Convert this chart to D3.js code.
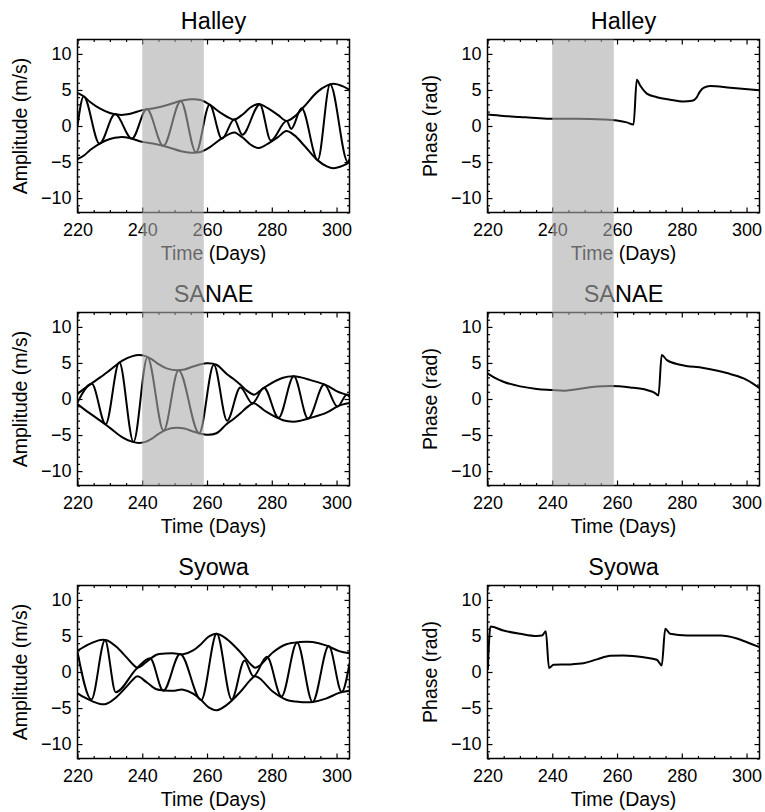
<!DOCTYPE html>
<html>
<head>
<meta charset="utf-8">
<script src="https://cdn.jsdelivr.net/npm/d3@7"></script>
<style>
    body { margin: 0; background: #fff; }
    text { font-family: "Liberation Sans", Arial, Helvetica, sans-serif; fill: #000; }
</style>
</head>
<body>
<div id="chart"></div>
<script>
const stations = ["Halley", "SANAE", "Syowa"];
const dayDomain = [220, 304];
const valueDomain = [-12, 12];
const xTicks = [220, 240, 260, 280, 300];
const yTicks = [-10, -5, 0, 5, 10];
const bandDays = [240, 259];

// amplitude envelopes, [day, m/s]
const halleyEnvelope = [[220, 4.6], [222, 4.1], [224, 3.3], [227, 2.4], [230, 1.8], [233, 1.55], [236, 1.65],
    [240, 2.2], [244, 2.5], [248, 2.95], [252, 3.5], [255, 3.7], [258, 3.6], [261, 2.9], [264, 1.9], [267, 1.1],
    [268.5, 0.9], [271, 1.6], [273.5, 2.6], [276, 3.05], [279, 2.4], [282, 1.5], [284.5, 0.7], [287, 1.3],
    [290, 2.7], [294, 4.7], [297, 5.6], [299, 5.85], [302, 5.5], [304, 5.0]];
const sanaeEnvelope = [[220, 0.7], [222, 1.4], [224.8, 2.3], [227, 3.0], [230, 4.0], [234, 5.35], [237, 5.95],
    [239, 6.1], [241, 5.95], [243, 5.5], [245, 4.85], [247.5, 4.25], [250.5, 4.0], [253, 4.1], [256, 4.55],
    [259.8, 4.95], [262.9, 4.75], [266, 3.5], [268.1, 2.8], [270.5, 1.9], [272.2, 1.2], [274.5, 0.6],
    [276.3, 1.1], [278.4, 1.8], [283.5, 2.95], [286.6, 3.15], [289, 3.0], [291.8, 2.65], [296.9, 1.9],
    [300, 1.1], [302, 0.75], [304, 0.55]];
const syowaEnvelope = [[220, 2.95], [222, 3.5], [224.8, 4.1], [227, 4.45], [229, 4.4], [232, 3.5], [235, 2.1],
    [237, 1.1], [238.5, 0.6], [241.3, 1.4], [244.4, 2.4], [247, 2.55], [249.5, 2.6], [252.6, 2.45], [255.7, 3.0],
    [258.2, 3.9], [260.5, 4.9], [263, 5.3], [266, 4.6], [270.1, 2.85], [273.2, 1.2], [274.8, 0.6], [276.3, 0.9],
    [280.4, 2.75], [284.5, 3.85], [288.6, 4.15], [292.6, 4.15], [296.7, 3.7], [300.8, 2.9], [304, 2.6]];

// wave turning points, [day, m/s]
const halleyWave = [[220, 0], [221.9, 4.1], [226.8, -2.45], [231.6, 1.65], [236.8, -1.75], [241.4, 2.35],
    [246.5, -2.75], [251.9, 3.45], [256.6, -3.65], [260.8, 2.95], [264.6, -1.75], [268.4, 0.9], [270.9, -1.2],
    [276.3, 3.0], [279.7, -2.0], [284.6, 0.7], [286, -0.4], [289.2, 2.45], [294.2, -4.7], [298, 5.8],
    [303.5, -5.0], [304, -4.6]];
const sanaeWave = [[220, -0.5], [224.4, 2.1], [228.7, -3.5], [232.9, 5.1], [237.3, -5.95], [241.6, 5.8],
    [246.6, -4.4], [251.2, 4.0], [257.6, -4.75], [262.1, 4.75], [266.2, -3.0], [270.3, 1.6], [274.0, -0.6],
    [277.6, 1.55], [282.1, -2.6], [286.8, 3.15], [291.2, -2.7], [296.2, 2.0], [300.3, -1.05], [303.2, 0.6],
    [304, 0.3]];
const syowaWave = [[220, 2.8], [224.3, -3.8], [228.5, 4.4], [231.8, -2.8], [238.3, 0.5], [242.4, 1.9],
    [246.5, -2.6], [251.7, 2.5], [258.2, -3.9], [263, 5.3], [267.6, -3.8], [271.6, 1.6],
    [274.3, -0.6], [278.5, 2.1], [283.0, -3.4], [287.8, 4.1], [292.6, -4.15], [297.6, 3.6], [301.6, -2.75],
    [304, 1.2]];

// phase, [day, rad]
const halleyPhase = [[220, 1.6], [225, 1.4], [230, 1.25], [235, 1.1], [240, 1.0], [247.6, 1.0], [255.8, 0.9],
    [260, 0.75], [263, 0.5], [265.1, 0.2], [266.1, 6.4], [267.1, 5.65], [269.2, 4.5], [272.3, 4.0],
    [276.4, 3.65], [280.5, 3.4], [283.2, 3.5], [284.5, 3.9], [285.5, 4.7], [286.7, 5.3], [288.8, 5.55],
    [295, 5.3], [304, 4.95]];
const sanaePhase = [[220, 3.55], [222, 3.0], [224.9, 2.4], [230.1, 1.75], [235.2, 1.4], [239.9, 1.25],
    [243.5, 1.15], [247.6, 1.35], [253.8, 1.75], [257.9, 1.8], [264.1, 1.6], [269.2, 1.25], [271.5, 0.9],
    [272.8, 0.5], [273.8, 6.1], [275.4, 5.4], [279.5, 4.75], [286.7, 4.3], [293.9, 3.6], [299.1, 2.85],
    [302.1, 2.1], [304, 1.5]];
const syowaPhase = [[220.1, 0.3], [220.9, 6.3], [224.9, 5.75], [230.1, 5.3], [235.2, 5.0], [236.8, 5.05],
    [238, 5.65], [239, 0.55], [240.4, 1.0], [245.5, 1.05], [249.6, 1.2], [253.8, 1.75], [257.9, 2.25],
    [262, 2.3], [268.2, 2.05], [272.3, 1.7], [273.8, 0.9], [274.9, 6.0], [276.4, 5.3], [281.6, 5.05],
    [291.9, 5.05], [297, 4.65], [301.1, 3.95], [304, 3.45]];

const envelopes = [halleyEnvelope, sanaeEnvelope, syowaEnvelope];
const waves = [halleyWave, sanaeWave, syowaWave];
const phases = [halleyPhase, sanaePhase, syowaPhase];

const width = 765, height = 812;
const plotW = 272, plotH = 173;
const colX = [77.5, 487.5];
const rowY = [39.5, 312.5, 585.5];

const svg = d3.select('#chart').append('svg')
    .attr("width", width)
    .attr("height", height);

const minorX = d3.range(dayDomain[0], dayDomain[1] + 1, 5).filter(d => d % 20 !== 0);
const minorY = d3.range(valueDomain[0], valueDomain[1] + 1, 1).filter(d => d % 5 !== 0);

function panel(col, row, yTitle, series) {
    const x = d3.scaleLinear().domain(dayDomain).range([colX[col], colX[col] + plotW]);
    const y = d3.scaleLinear().domain(valueDomain).range([rowY[row] + plotH, rowY[row]]);
    const g = svg.append("g");
    const clipId = "clip" + col + row;

    g.append("clipPath").attr("id", clipId)
        .append("rect")
        .attr("x", x.range()[0]).attr("y", y.range()[1])
        .attr("width", plotW).attr("height", plotH);

    // ticks on all four sides, pointing in; labels only bottom and left
    const sides = [
        { make: () => d3.axisBottom(x), dx: 0, dy: rowY[row] + plotH, major: xTicks, minor: minorX, labels: true, pad: 11 },
        { make: () => d3.axisTop(x), dx: 0, dy: rowY[row], major: xTicks, minor: minorX, labels: false, pad: 6 },
        { make: () => d3.axisLeft(y), dx: colX[col], dy: 0, major: yTicks, minor: minorY, labels: true, pad: 6 },
        { make: () => d3.axisRight(y), dx: colX[col] + plotW, dy: 0, major: yTicks, minor: minorY, labels: false, pad: 6 }
    ];
    sides.forEach(function (s) {
        const major = s.make().tickValues(s.major).tickSize(-5).tickPadding(s.pad);
        if (!s.labels) major.tickFormat("");
        const ga = g.append("g").attr("transform", "translate(" + s.dx + "," + s.dy + ")").call(major);
        ga.select(".domain").remove();
        ga.selectAll("line").attr("stroke-width", 1.2);
        ga.selectAll("text").attr("font-size", "18px").attr("fill", "#000")
            .attr("font-family", '"Liberation Sans", Arial, sans-serif');
        const minor = s.make().tickValues(s.minor).tickSize(-2.5).tickFormat("");
        const gm = g.append("g").attr("transform", "translate(" + s.dx + "," + s.dy + ")").call(minor);
        gm.select(".domain").remove();
        gm.selectAll("line").attr("stroke-width", 1.2);
    });

    const line = d3.line()
        .x(function (d) { return x(d[0]); })
        .y(function (d) { return y(d[1]); });

    const plot = g.append("g").attr("clip-path", "url(#" + clipId + ")");
    series.forEach(function (s) {
        plot.append("path")
            .datum(s.data)
            .attr("fill", "none")
            .attr("stroke", "#000")
            .attr("stroke-width", 2)
            .attr("stroke-linejoin", "round")
            .attr("d", line.curve(s.curve));
    });

    g.append("rect")
        .attr("x", x.range()[0]).attr("y", y.range()[1])
        .attr("width", plotW).attr("height", plotH)
        .attr("fill", "none").attr("stroke", "#000").attr("stroke-width", 1.5);

    const cx = colX[col] + plotW / 2;
    g.append("text")
        .attr("x", cx).attr("y", rowY[row] - 11)
        .attr("text-anchor", "middle").attr("font-size", "23.5px")
        .text(stations[row]);
    g.append("text")
        .attr("x", cx).attr("y", rowY[row] + plotH + 47)
        .attr("text-anchor", "middle").attr("font-size", "19.5px")
        .text("Time (Days)");
    g.append("text")
        .attr("transform", "translate(" + (colX[col] - 51) + "," + (rowY[row] + plotH / 2) + ") rotate(-90)")
        .attr("text-anchor", "middle").attr("font-size", "19.5px")
        .text(yTitle);
}

for (let i = 0; i < stations.length; i++) {
    const lower = envelopes[i].map(function (d) { return [d[0], -d[1]]; });
    panel(0, i, "Amplitude (m/s)", [
        { data: envelopes[i], curve: d3.curveCatmullRom },
        { data: lower, curve: d3.curveCatmullRom },
        { data: waves[i], curve: d3.curveMonotoneX }
    ]);
    panel(1, i, "Phase (rad)", [
        { data: phases[i], curve: d3.curveMonotoneX }
    ]);
}

// shaded interval over the top two rows
for (let c = 0; c < 2; c++) {
    const x = d3.scaleLinear().domain(dayDomain).range([colX[c], colX[c] + plotW]);
    svg.append("rect")
        .attr("x", x(bandDays[0]))
        .attr("y", rowY[0])
        .attr("width", x(bandDays[1]) - x(bandDays[0]))
        .attr("height", rowY[1] + plotH - rowY[0])
        .attr("fill", "#ababab")
        .attr("opacity", 0.6);
}
</script>
</body>
</html>
